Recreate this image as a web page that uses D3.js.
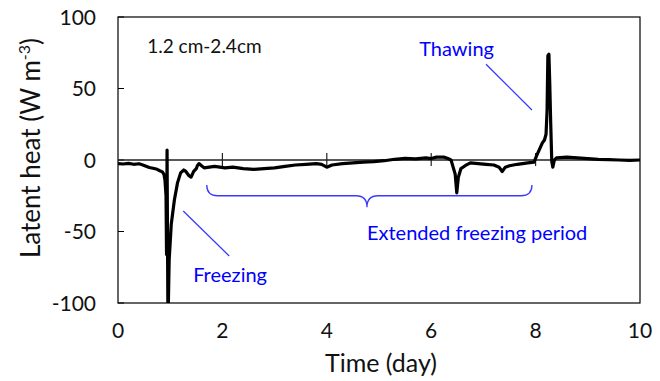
<!DOCTYPE html>
<html>
<head>
<meta charset="utf-8">
<script src="https://cdn.jsdelivr.net/npm/d3@7"></script>
<style>
  body { margin: 0; background: #fff; }
  text { font-family: Lato, "Open Sans", sans-serif; }
</style>
</head>
<body>
<svg id="chart" width="660" height="381"></svg>
<script>
// time (day) and latent heat (W m-3)
const days = [0.00, 0.10, 0.20, 0.30, 0.40, 0.45, 0.50, 0.55, 0.60, 0.67, 0.75, 0.80, 0.85, 0.88, 0.90,
  0.92, 0.93, 0.935, 0.94, 0.945, 0.955, 0.965, 0.98, 1.02, 1.08, 1.14, 1.20, 1.26, 1.30, 1.36, 1.40,
  1.45, 1.50, 1.52, 1.55, 1.60, 1.65, 1.75, 1.85, 1.95, 2.05, 2.20, 2.40, 2.60, 2.80, 3.00, 3.20, 3.40,
  3.60, 3.80, 3.90, 4.00, 4.10, 4.30, 4.50, 4.70, 4.90, 5.10, 5.30, 5.50, 5.70, 5.90, 6.00, 6.10, 6.25,
  6.32, 6.38, 6.42, 6.46, 6.49, 6.52, 6.57, 6.65, 6.75, 6.90, 7.05, 7.20, 7.30, 7.36, 7.42, 7.50, 7.65,
  7.85, 7.97, 8.02, 8.08, 8.13, 8.17, 8.20, 8.22, 8.235, 8.255, 8.27, 8.29, 8.31, 8.33, 8.36, 8.40, 8.60,
  8.80, 9.00, 9.20, 9.40, 9.60, 9.80, 10.00];
const heat = [-2.5, -2.8, -2.4, -3.0, -2.6, -3.2, -3.8, -4.5, -5.2, -5.8, -6.5, -7.5, -8.3, -10, -14,
  -25, -66, -40, 7, -30, -100, -100, -70, -45, -28, -16, -9, -7, -8, -11, -12,
  -8, -6, -4, -2.5, -4, -5.5, -5, -4.5, -5, -5.5, -5, -6, -6.5, -6, -5.5, -4.5, -3.5,
  -3, -2.5, -3, -5, -3.5, -2.5, -2, -1.5, -1.2, -0.5, 0.5, 1.2, 0.8, 1.5, 1, 2, 2,
  1, 0, -5, -10, -23, -12, -6, -4, -2, -2.5, -3, -3.5, -5, -8, -5, -4, -3,
  -2, -1.5, 3, 8, 12, 14, 18, 35, 73, 74, 55, 25, -1, -5, 0, 1.5, 2,
  1.5, 1, 0.5, 0.3, 0, -0.3, 0];

const xTicks = [0, 2, 4, 6, 8, 10];
const yTicks = [-100, -50, 0, 50, 100];

const svg = d3.select('#chart');
const x = d3.scaleLinear().domain([0, 10]).range([118, 640]);
const y = d3.scaleLinear().domain([-100, 100]).range([303, 17]);

// frame
svg.append('rect')
  .attr('x', x(0)).attr('y', y(100))
  .attr('width', x(10) - x(0)).attr('height', y(-100) - y(100))
  .attr('fill', 'none').attr('stroke', '#000').attr('stroke-width', 1.2);

// y ticks (inside) and labels
svg.selectAll('.ytick').data(yTicks).enter().append('line')
  .attr('x1', x(0)).attr('x2', x(0) + 6)
  .attr('y1', d => y(d)).attr('y2', d => y(d))
  .attr('stroke', '#000').attr('stroke-width', 1);
svg.selectAll('.ylab').data(yTicks).enter().append('text')
  .attr('x', 96).attr('y', d => y(d) + 7.5)
  .attr('text-anchor', 'end').attr('font-size', 21).attr('fill', '#111')
  .text(d => d);

// x labels at the bottom
svg.selectAll('.xlab').data(xTicks).enter().append('text')
  .attr('x', d => x(d)).attr('y', 338)
  .attr('text-anchor', 'middle').attr('font-size', 21).attr('fill', '#111')
  .text(d => d);

// zero line with cross ticks
svg.append('line')
  .attr('x1', x(0)).attr('x2', x(10)).attr('y1', y(0)).attr('y2', y(0))
  .attr('stroke', '#222').attr('stroke-width', 1.4);
svg.selectAll('.xtick').data(xTicks.slice(1, -1)).enter().append('line')
  .attr('x1', d => x(d)).attr('x2', d => x(d))
  .attr('y1', y(0) - 7).attr('y2', y(0) + 6)
  .attr('stroke', '#222').attr('stroke-width', 1.2);

// axis titles
svg.append('text')
  .attr('x', 381).attr('y', 372)
  .attr('text-anchor', 'middle').attr('font-size', 25).attr('fill', '#111')
  .text('Time (day)');
const yt = svg.append('text')
  .attr('transform', 'translate(40,148) rotate(-90)')
  .attr('text-anchor', 'middle').attr('font-size', 26).attr('fill', '#111');
yt.append('tspan').text('Latent heat (W m');
yt.append('tspan').attr('font-size', 16).attr('dy', -10).text('-3');
yt.append('tspan').attr('dy', 10).text(')');

// data line
svg.append('defs').append('clipPath').attr('id', 'plot')
  .append('rect').attr('x', x(0)).attr('y', y(100) - 2)
  .attr('width', x(10) - x(0)).attr('height', y(-100) - y(100) + 2);
const pts = days.map((d, i) => [d, heat[i]]);
svg.append('path')
  .datum(pts)
  .attr('clip-path', 'url(#plot)')
  .attr('fill', 'none').attr('stroke', '#000')
  .attr('stroke-width', 3.2).attr('stroke-linejoin', 'round')
  .attr('d', d3.line().x(d => x(d[0])).y(d => y(d[1])));

// annotations
const blue = '#0000ff';
const lineBlue = '#3a3aff';
svg.append('text')
  .attr('x', x(0.56)).attr('y', y(75))
  .attr('font-size', 19).attr('fill', '#111')
  .text('1.2 cm-2.4cm');

svg.append('text')
  .attr('x', x(5.77)).attr('y', y(73))
  .attr('font-size', 20).attr('fill', blue)
  .text('Thawing');
svg.append('line')
  .attr('x1', x(7.05)).attr('y1', y(67)).attr('x2', x(7.93)).attr('y2', y(35))
  .attr('stroke', lineBlue).attr('stroke-width', 1.3);

svg.append('text')
  .attr('x', x(1.44)).attr('y', y(-85))
  .attr('font-size', 20).attr('fill', blue)
  .text('Freezing');
svg.append('line')
  .attr('x1', x(1.25)).attr('y1', y(-35.7)).attr('x2', x(2.13)).attr('y2', y(-67.1))
  .attr('stroke', lineBlue).attr('stroke-width', 1.3);

// brace over the extended freezing period
const bx1 = x(1.70), bx2 = x(7.93), bxc = x(4.77);
const byTop = y(-17.5), byMid = y(-25), byTip = y(-33);
svg.append('path')
  .attr('d', `M${bx1},${byTop} Q${bx1},${byMid} ${bx1 + 11},${byMid} L${bxc - 11},${byMid}
    Q${bxc},${byMid} ${bxc},${byTip} Q${bxc},${byMid} ${bxc + 11},${byMid} L${bx2 - 11},${byMid}
    Q${bx2},${byMid} ${bx2},${byTop}`)
  .attr('fill', 'none').attr('stroke', lineBlue).attr('stroke-width', 1.3);
svg.append('text')
  .attr('x', x(4.77)).attr('y', y(-56))
  .attr('font-size', 20).attr('fill', blue)
  .text('Extended freezing period');
</script>
</body>
</html>
